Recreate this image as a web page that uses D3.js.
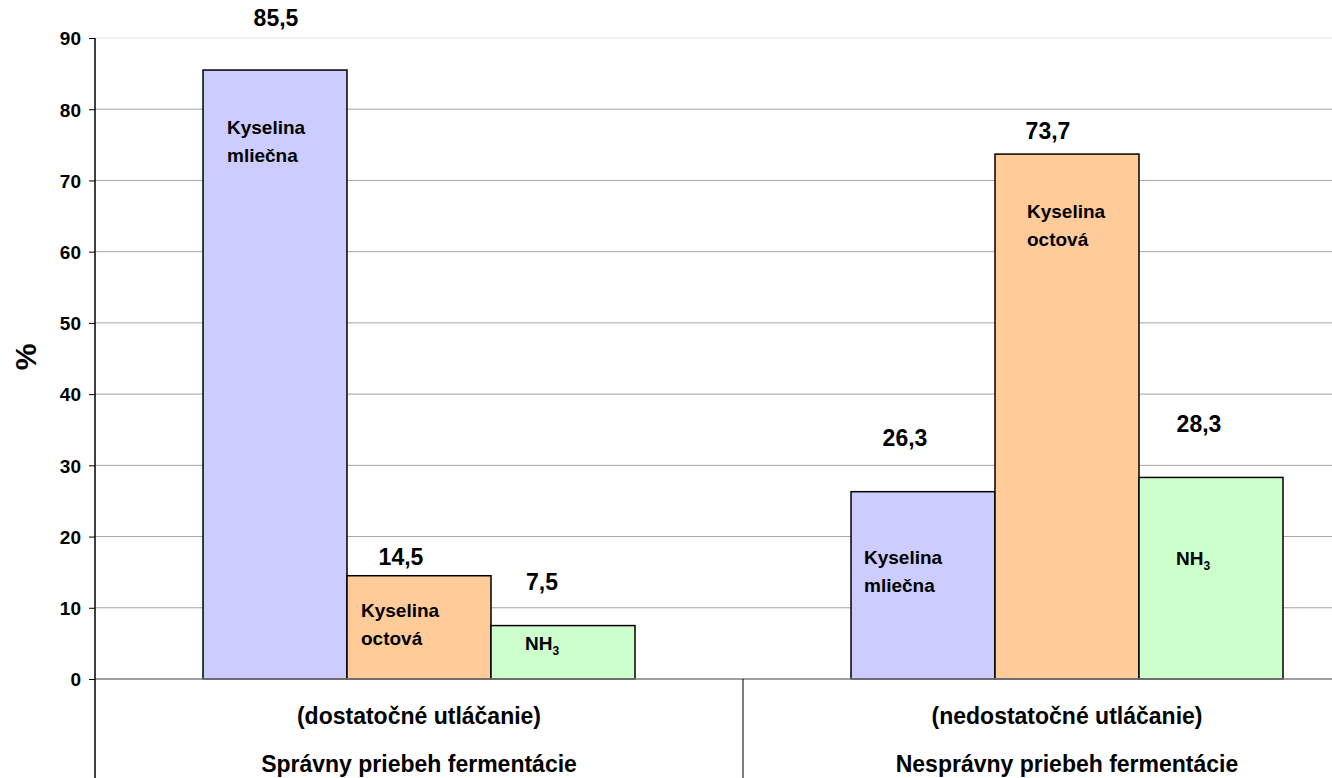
<!DOCTYPE html>
<html>
<head>
<meta charset="utf-8">
<script src="https://cdn.jsdelivr.net/npm/d3@7"></script>
<style>
  html, body { margin: 0; padding: 0; background: #fff; }
  svg { display: block; font-family: "Liberation Sans", Arial, sans-serif; font-weight: bold; }
</style>
</head>
<body>
<svg id="chart" width="1332" height="778"></svg>
<script>
// ---- data ----
const categories = ["Správny priebeh fermentácie", "Nesprávny priebeh fermentácie"];
const subtitles = ["(dostatočné utláčanie)", "(nedostatočné utláčanie)"];
const series = ["Kyselina mliečna", "Kyselina octová", "NH3"];
const valuesCorrect = [85.5, 14.5, 7.5];
const valuesIncorrect = [26.3, 73.7, 28.3];
const valueLabels = [["85,5", "14,5", "7,5"], ["26,3", "73,7", "28,3"]];
const yTicks = [0, 10, 20, 30, 40, 50, 60, 70, 80, 90];
const colors = ["#CCCCFF", "#FFCC99", "#CCFFCC"];

// annotation placement (px offsets relative to bar)
const valueLabelDx = [[1, -18, -21], [-18, -19, -12]];
const valueLabelDy = [[-44, -11, -36], [-46, -15, -45]];
const innerDx = [[24, 14, 34], [13, 32, 37]];
const innerDy = [[64, 41, 24], [72, 64, 88]];

const svg = d3.select("#chart");
const W = 1332, H = 778;
const mLeft = 95, mTop = 38, mBottom = 679, rightEnd = 1391;

const y = d3.scaleLinear().domain([0, 90]).range([mBottom, mTop]);
const x0 = d3.scaleBand().domain(categories).range([mLeft, rightEnd]).paddingInner(0).paddingOuter(0);
const x1 = d3.scaleBand().domain(series).range([0, x0.bandwidth()]).paddingInner(0).paddingOuter(0.75);

const allValues = [valuesCorrect, valuesIncorrect];

// gridlines
svg.append("g").selectAll("line")
  .data(yTicks.filter(d => d > 0))
  .join("line")
  .attr("x1", mLeft).attr("x2", W)
  .attr("y1", d => y(d)).attr("y2", d => y(d))
  .attr("stroke", d => d === 90 ? "#e4e4e4" : "#a6a6a6")
  .attr("stroke-width", 1);

// bars
categories.forEach((cat, ci) => {
  const g = svg.append("g").attr("transform", `translate(${x0(cat)},0)`);
  series.forEach((s, si) => {
    const v = allValues[ci][si];
    g.append("rect")
      .attr("x", x1(s)).attr("y", y(v))
      .attr("width", x1.bandwidth()).attr("height", y(0) - y(v))
      .attr("fill", colors[si]).attr("stroke", "#000").attr("stroke-width", 1.5);
  });
});

// zero line
svg.append("line").attr("x1", mLeft).attr("x2", W).attr("y1", y(0)).attr("y2", y(0))
  .attr("stroke", "#808080").attr("stroke-width", 1.5);

// y axis
const yAxis = d3.axisLeft(y).tickValues(yTicks).tickSize(6).tickPadding(8).tickFormat(d3.format("d"));
const ax = svg.append("g").attr("transform", `translate(${mLeft},0)`).call(yAxis);
ax.select(".domain").remove();
ax.selectAll(".tick line").attr("stroke", "#000");
ax.selectAll(".tick text").attr("font-size", 19).attr("font-weight", "bold")
  .attr("font-family", "Liberation Sans, Arial, sans-serif").attr("fill", "#000")
  .attr("dy", "0.36em");
svg.append("line").attr("x1", mLeft).attr("x2", mLeft).attr("y1", mTop).attr("y2", H)
  .attr("stroke", "#000").attr("stroke-width", 1.5);

// category separators
categories.forEach((cat, ci) => {
  if (ci > 0) {
    svg.append("line").attr("x1", x0(cat)).attr("x2", x0(cat))
      .attr("y1", y(0)).attr("y2", H).attr("stroke", "#000").attr("stroke-width", 1);
  }
  const cx = x0(cat) + x0.bandwidth() / 2;
  svg.append("text").attr("x", cx).attr("y", 724).attr("text-anchor", "middle")
    .attr("font-size", 23).text(subtitles[ci]);
  svg.append("text").attr("x", cx).attr("y", 772).attr("text-anchor", "middle")
    .attr("font-size", 23).text(cat);
});

// y title
svg.append("text").attr("transform", `translate(36,357) rotate(-90)`)
  .attr("text-anchor", "middle").attr("font-size", 30).text("%");

// value labels & inner labels
categories.forEach((cat, ci) => {
  series.forEach((s, si) => {
    const v = allValues[ci][si];
    const bx = x0(cat) + x1(s);
    const cx = bx + x1.bandwidth() / 2;
    svg.append("text").attr("x", cx + valueLabelDx[ci][si]).attr("y", y(v) + valueLabelDy[ci][si])
      .attr("text-anchor", "middle").attr("font-size", 23).text(valueLabels[ci][si]);
    const t = svg.append("text").attr("x", bx + innerDx[ci][si]).attr("y", y(v) + innerDy[ci][si])
      .attr("font-size", 19);
    if (s === "NH3") {
      t.append("tspan").text("NH");
      t.append("tspan").attr("font-size", 12).attr("dy", 5).text("3");
    } else {
      const parts = s.split(" ");
      t.append("tspan").attr("x", bx + innerDx[ci][si]).text(parts[0]);
      t.append("tspan").attr("x", bx + innerDx[ci][si]).attr("dy", 28).text(parts[1]);
    }
  });
});
</script>
</body>
</html>
